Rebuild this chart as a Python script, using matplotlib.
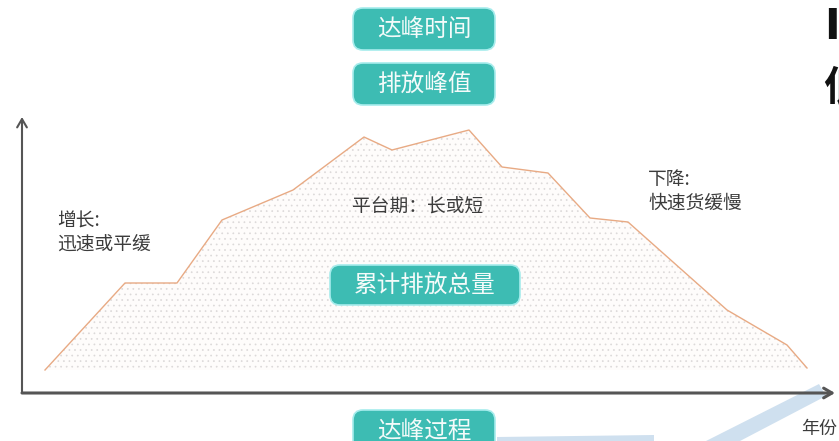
import matplotlib
matplotlib.use("Agg")
import matplotlib.pyplot as plt
from matplotlib.patches import FancyBboxPatch, Polygon

plt.rcParams['font.family'] = ['Noto Sans CJK SC', 'DejaVu Sans']
plt.rcParams['hatch.linewidth'] = 0.5

# emission path: year position vs. emission level (schematic)
year = [23, 103, 155, 200, 271, 342, 370, 447, 480, 526, 568, 606, 705, 765, 785]
emission = [23, 110, 110, 173, 203, 256, 243, 263, 226, 220, 175, 171, 83, 48, 25]
base = 23

box_labels = ['达峰时间', '排放峰值', '累计排放总量', '达峰过程']
phase_labels = [('增长:', '迅速或平缓'), ('平台期：长或短',), ('下降:', '快速货缓慢')]
x_label = '年份'

teal = '#3dbcb3'
ink = '#3c3c3c'

fig = plt.figure(figsize=(8.39, 4.41), dpi=100)
ax = fig.add_axes([0, 0, 1, 1])
ax.set_xlim(-22, 817)
ax.set_ylim(-48, 393)
ax.axis('off')

# cumulative emissions area with dotted fill
ax.fill_between(year, base, emission, facecolor='#fefcfb', edgecolor='#dcd9d9',
                hatch='...', linewidth=0, zorder=1)
ax.plot(year, emission, color='#e8aa84', lw=1.0, zorder=2)

# axes with open arrow heads
arr = dict(arrowstyle='->,head_length=0.6,head_width=0.35', color='#555555', lw=1.5,
           shrinkA=0, shrinkB=0)
ax.annotate('', xy=(0, 276), xytext=(0, 0), arrowprops=arr)
arr_x = dict(arr, lw=2.2)
ax.annotate('', xy=(813, 0), xytext=(0, 0), arrowprops=arr_x)

# light watermark strokes bottom right
wm = '#cfe0ef'
ax.add_patch(Polygon([(684, -48), (718, -48), (804, -3), (797, 9)],
                     closed=True, fc=wm, ec='none', zorder=0.5))
ax.add_patch(Polygon([(475, -44), (632, -42), (632, -48), (475, -48)],
                     closed=True, fc=wm, ec='none', zorder=0.5))

# teal tag boxes
boxes = [(331, 343, 142, 42), (331, 288, 142, 42), (308, 88, 190, 40), (331, -59, 142, 42)]
for (bx, by, bw, bh), txt in zip(boxes, box_labels):
    ax.add_patch(FancyBboxPatch((bx + 10, by + 10), bw - 20, bh - 20,
                                boxstyle='round,pad=10', fc=teal, ec='#a6ecec',
                                lw=1.2, zorder=3))
    ax.text(bx + bw / 2, by + bh / 2, txt, color='#f4fbfa', fontsize=17,
            ha='center', va='center', zorder=4)

# phase descriptions
ax.text(35, 172, phase_labels[0][0], fontsize=13.5, color=ink, va='center')
ax.text(35, 148, phase_labels[0][1], fontsize=13.5, color=ink, va='center')
ax.text(330, 186, phase_labels[1][0], fontsize=13.5, color=ink, va='center')
ax.text(626, 213, phase_labels[2][0], fontsize=13.5, color=ink, va='center')
ax.text(626, 190, phase_labels[2][1], fontsize=13.5, color=ink, va='center')

ax.text(779, -36, x_label, fontsize=13, color=ink, va='center')

# title characters running off the right edge
ax.text(802, 366, 'I', fontsize=30, fontweight='bold', color='#111111',
        family='DejaVu Sans', va='center')
ax.text(801, 305, '低', fontsize=29, fontweight='bold', color='#111111', va='center')

fig.savefig('out.png', dpi=100)
